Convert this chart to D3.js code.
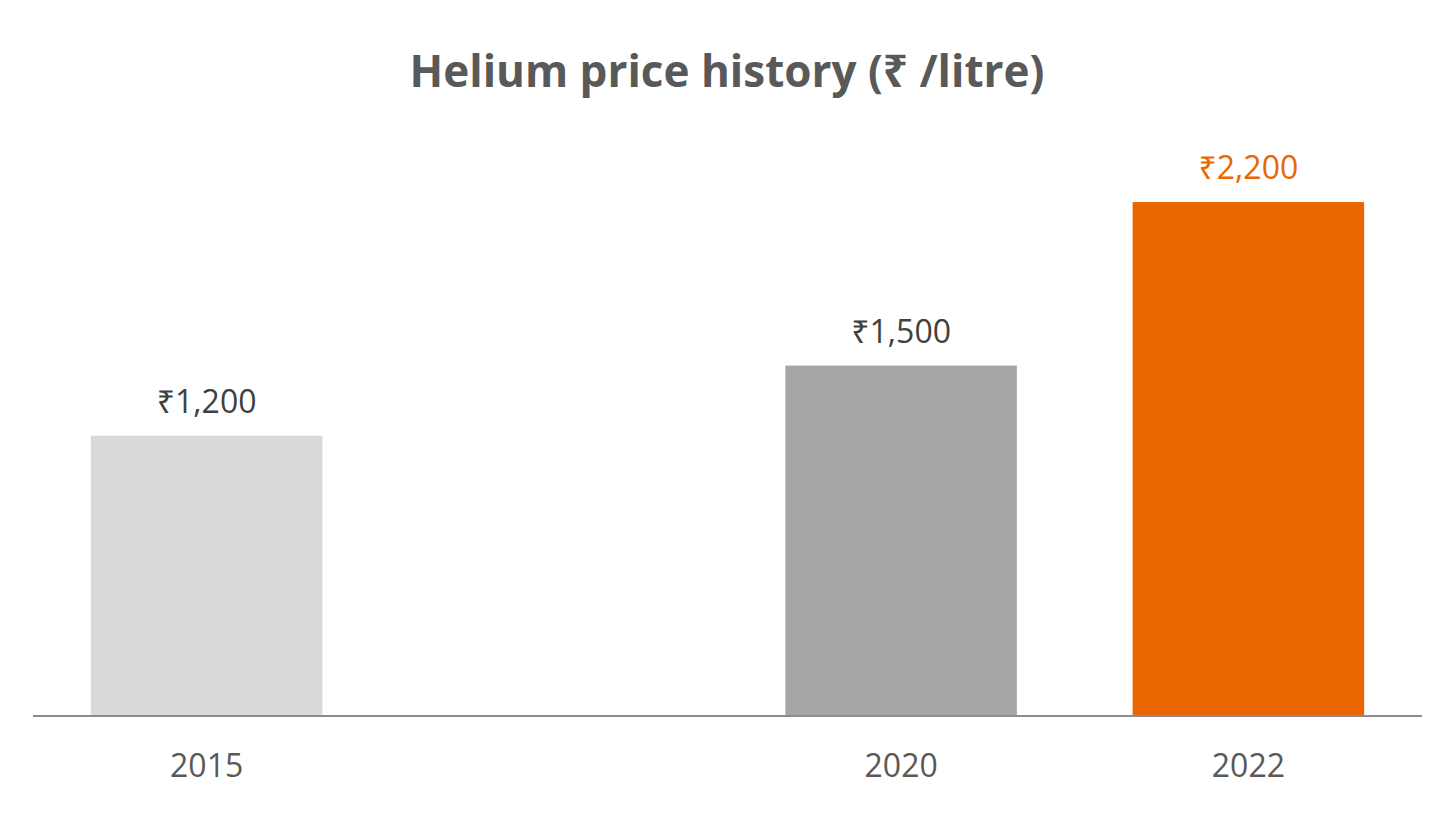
<!DOCTYPE html>
<html>
<head>
<meta charset="utf-8">
<script src="https://cdn.jsdelivr.net/npm/d3@7"></script>
<style>
  html, body { margin: 0; padding: 0; background: #ffffff; }
  svg { display: block; }
</style>
</head>
<body>
<svg id="chart" width="1448" height="815"></svg>
<script>
const title = "Helium price history (₹ /litre)";
const categories = ["2015", "", "2020", "2022"];
const prices = [1200, null, 1500, 2200];
const barColors = ["#d9d9d9", "#ffffff", "#a6a6a6", "#eb6600"];
const labelColors = ["#404040", "#404040", "#404040", "#eb6600"];
const yDomain = [0, 2500];

const data = categories.map((c, i) => ({ cat: c, value: prices[i], color: barColors[i], lc: labelColors[i] }));

const svg = d3.select("#chart");
const fontFam = "'Open Sans', 'Noto Sans', 'DejaVu Sans', sans-serif";

const x = d3.scaleBand().domain(categories).range([33, 1422]).paddingInner(1/3).paddingOuter(1/6);
const y = d3.scaleLinear().domain(yDomain).range([716, 132]);

// title
svg.append("text")
  .attr("x", 727).attr("y", 87)
  .attr("text-anchor", "middle")
  .attr("font-family", fontFam)
  .attr("font-weight", "bold")
  .attr("font-size", 44)
  .attr("fill", "#595959")
  .text(title);

// bars
const bars = data.filter(d => d.value != null);
svg.append("g").selectAll("rect").data(bars).join("rect")
  .attr("x", d => x(d.cat))
  .attr("width", x.bandwidth())
  .attr("y", d => y(d.value))
  .attr("height", d => y(0) - y(d.value))
  .attr("fill", d => d.color);

// value labels
svg.append("g").selectAll("text").data(bars).join("text")
  .attr("x", d => x(d.cat) + x.bandwidth() / 2)
  .attr("y", d => y(d.value) - 23)
  .attr("text-anchor", "middle")
  .attr("font-family", fontFam)
  .attr("font-size", 32)
  .attr("fill", d => d.lc)
  .text(d => "₹" + d3.format(",")(d.value));

// axis
const axis = d3.axisBottom(x).tickSize(0).tickPadding(0).tickFormat(d => d);
const ax = svg.append("g").attr("transform", `translate(0,${y(0)})`).call(axis);
ax.select(".domain").attr("stroke", "#8c8c8c").attr("stroke-width", 2).attr("d", "M33,0H1422");
ax.selectAll(".tick text")
  .attr("dy", null)
  .attr("y", 61)
  .attr("font-family", fontFam)
  .attr("font-size", 32)
  .attr("fill", "#595959");
</script>
</body>
</html>
